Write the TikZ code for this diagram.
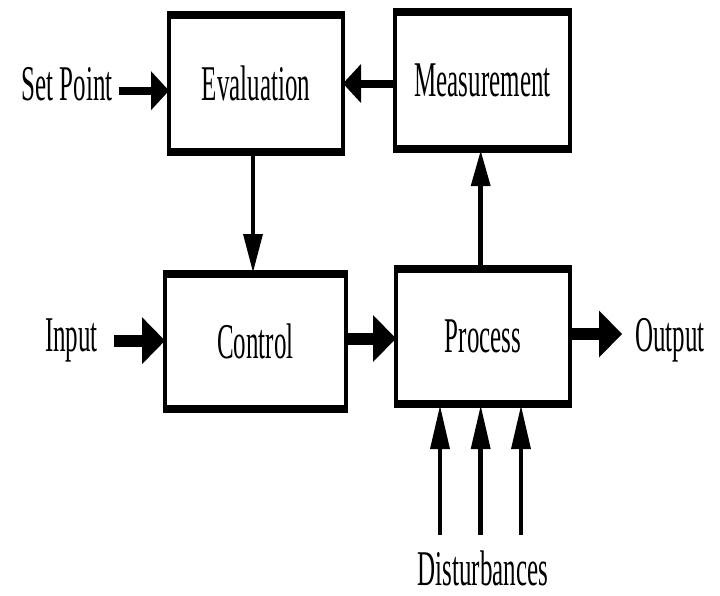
\documentclass[tikz,border=0pt]{standalone}
\usepackage{fontspec}
\setmainfont{Liberation Serif}
\newfontfamily\narrowserif[FakeStretch=0.5]{Liberation Serif}
\usetikzlibrary{arrows.meta}

\begin{document}
\begin{tikzpicture}[x=1pt,y=-1pt,
  txt/.style={font={\narrowserif\fontsize{50}{60}\selectfont}},
  block/.style={txt, draw, line width=4pt, rectangle, inner sep=0pt, outer sep=0pt},
  lbl/.style={txt, inner sep=0pt, outer sep=0pt},
  fatup/.style={line width=8pt, -{Triangle[length=18pt,width=39pt,line width=0pt]}},
  fatlow/.style={line width=12pt, -{Triangle[length=23pt,width=47pt,line width=0pt]}},
  thinarrow/.style={line width=4.5pt, -{Triangle[length=#1,width=20pt,line width=0pt]}},
  thinarrow/.default=38pt,
]
\useasboundingbox (0,0) rectangle (720,595);

% blocks (sizes measured to the middle of the side strokes)
\node[block, minimum width=174pt, minimum height=141pt] (eval) at (256,83.5)  {Evaluation};
\node[block, minimum width=175pt, minimum height=141pt] (meas) at (482.5,80.5) {Measurement};
\node[block, minimum width=181pt, minimum height=139pt] (ctrl) at (255.5,341.5) {Control};
\node[block, minimum width=174pt, minimum height=139pt] (proc) at (483,336.5) {Process};

% heavier top and bottom edges
\foreach \n in {eval,meas,ctrl,proc}{
  \fill ([shift={(-2pt,2pt)}]\n.north west) rectangle ([shift={(2pt,-6pt)}]\n.north east);
  \fill ([shift={(-2pt,-2pt)}]\n.south west) rectangle ([shift={(2pt,6pt)}]\n.south east);
}

% outside labels
\node[lbl, anchor=base west] (sp)   at (21.7,100)  {Set Point};
\node[lbl, anchor=base west] (inp)  at (45,351.7)  {Input};
\node[lbl, anchor=base west] (out)  at (635,351.7) {Output};
\node[lbl, anchor=base]      (dist) at (483,585)   {Disturbances};

% free ends of the disturbance arrows
\coordinate (d1) at (440,535);
\coordinate (d2) at (480.7,535);
\coordinate (d3) at (521,535);

% signal flow
\draw[fatup, shorten <=6pt] ([yshift=-7pt]sp.east) -- ([yshift=-7pt]sp.east -| eval.west);
\draw[fatup] (eval.east -| meas.west) -- (eval.east);
\draw[thinarrow] ([xshift=-3pt]eval.south) -- ([xshift=-3pt]eval.south |- ctrl.north);
\draw[thinarrow=35pt] ([xshift=-2.3pt]proc.north) -- ([xshift=-2.3pt]proc.north |- meas.south);
\draw[fatlow, shorten <=16pt] (inp.east) -- (inp.east -| ctrl.west);
\draw[fatlow] ([yshift=3pt]ctrl.east) -- ([yshift=3pt]ctrl.east -| proc.west);
\draw[fatlow, shorten >=13pt] ([yshift=2.5pt]proc.east) -- ([yshift=2.5pt]proc.east -| out.west);
\foreach \d in {d1,d2,d3}
  \draw[thinarrow=43pt] (\d) -- (\d |- proc.south);
\end{tikzpicture}
\end{document}
